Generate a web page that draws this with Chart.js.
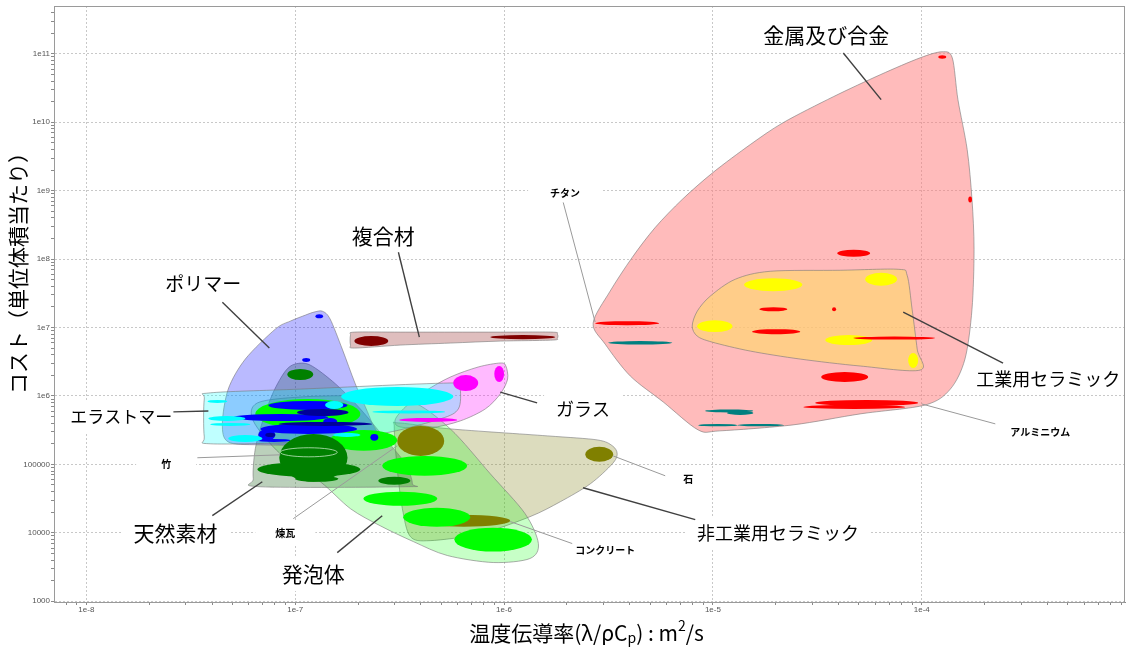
<!DOCTYPE html>
<html lang="ja">
<head>
<meta charset="utf-8">
<title>温度伝導率とコスト</title>
<script src="https://cdn.jsdelivr.net/npm/chart.js@4.4.1/dist/chart.umd.min.js"></script>
<style>
  html, body { margin: 0; padding: 0; background: #fff; }
  #wrap { position: relative; width: 1128px; height: 654px; }
</style>
</head>
<body>
<div id="wrap"><canvas id="chart"></canvas></div>
<script>
// tick labels as printed on the original axes
const xTickValues = [1e-8, 1e-7, 1e-6, 1e-5, 1e-4];
const xTickLabels = ['1e-8', '1e-7', '1e-6', '1e-5', '1e-4'];
const yTickValues = [1e3, 1e4, 1e5, 1e6, 1e7, 1e8, 1e9, 1e10, 1e11];
const yTickLabels = ['1000', '10000', '100000', '1e6', '1e7', '1e8', '1e9', '1e10', '1e11'];

// family envelopes, points are [diffusivity m2/s, cost]
const metalsHull = [[2.67e-6,1.16e7],[3.22e-6,3.40e7],[4.11e-6,1.06e8],[5.30e-6,2.91e8],[7.13e-6,7.45e8],[1.0e-5,1.84e9],[1.51e-5,4.72e9],[2.17e-5,9.87e9],[3.77e-5,2.36e10],[6.32e-5,4.94e10],[9.82e-5,8.74e10],[1.25e-4,1.07e11],[1.40e-4,8.74e10],[1.49e-4,2.14e10],[1.65e-4,3.99e9],[1.74e-4,7.45e8],[1.78e-4,1.39e8],[1.74e-4,1.85e7],[1.61e-4,3.46e6],[1.37e-4,1.26e6],[1.04e-4,7.39e5],[5.07e-5,5.47e5],[2.42e-5,3.78e5],[1.08e-5,3.09e5],[8.50e-6,3.19e5],[5.78e-6,8.18e5],[4.02e-6,1.96e6],[3.05e-6,5.72e6]];
const techCeramicHull = [[7.96e-6,1.05e7],[8.41e-6,1.73e7],[9.70e-6,2.87e7],[1.28e-5,5.08e7],[1.88e-5,6.64e7],[4.07e-5,6.87e7],[7.71e-5,7.10e7],[8.51e-5,5.81e7],[8.99e-5,1.85e7],[9.51e-5,4.84e6],[9.82e-5,2.39e6],[5.07e-5,2.74e6],[2.62e-5,3.46e6],[1.51e-5,4.53e6],[9.92e-6,6.12e6],[8.41e-6,7.5e6]];
const compositeHull = [[1.84e-7,7.75e6],[1.92e-7,8.57e6],[3.18e-7,8.57e6],[5.53e-7,8.57e6],[9.59e-7,8.57e6],[1.70e-6,8.57e6],[1.80e-6,8.01e6],[1.80e-6,7.0e6],[1.70e-6,6.55e6],[9.59e-7,6.34e6],[5.53e-7,5.93e6],[3.18e-7,5.54e6],[1.92e-7,5.01e6],[1.84e-7,5.54e6]];
const glassHull = [[3.01e-7,4.47e5],[3.37e-7,6.92e5],[4.20e-7,1.18e6],[5.53e-7,1.89e6],[7.52e-7,2.65e6],[9.59e-7,3.03e6],[1.02e-6,2.74e6],[1.04e-6,1.77e6],[9.59e-7,1.07e6],[8.13e-7,6.46e5],[6.17e-7,4.32e5],[4.43e-7,3.42e5],[3.18e-7,3.53e5]];
const ceramicHull = [[2.98e-7,3.53e5],[3.12e-7,4.04e5],[5.53e-7,3.30e5],[1.61e-6,2.61e5],[2.79e-6,2.28e5],[3.30e-6,1.87e5],[3.48e-6,1.43e5],[3.30e-6,1.02e5],[2.59e-6,5.21e4],[1.86e-6,2.85e4],[1.33e-6,1.72e4],[7.69e-7,9.73e3],[4.43e-7,7.69e3],[3.56e-7,8.81e3],[3.26e-7,2.25e4],[3.08e-7,8.63e4]];
const foamHull = [[6.30e-8,4.32e5],[6.59e-8,7.91e5],[1.06e-7,9.66e5],[2.05e-7,1.0e6],[3.56e-7,8.45e5],[5.53e-7,3.30e5],[8.59e-7,7.29e4],[1.26e-6,1.91e4],[1.46e-6,6.97e3],[1.33e-6,4.21e3],[8.88e-7,3.68e3],[5.35e-7,4.66e3],[3.68e-7,7.44e3],[2.55e-7,1.27e4],[1.84e-7,2.25e4],[1.32e-7,5.57e4],[8.48e-8,1.43e5]];
const naturalHull = [[7.86e-8,1.14e6],[8.97e-8,2.31e6],[1.0e-7,2.93e6],[1.18e-7,2.83e6],[1.56e-7,1.50e6],[2.05e-7,6.46e5],[2.70e-7,2.36e5],[3.37e-7,1.02e5],[3.64e-7,5.21e4],[3.37e-7,4.71e4],[6.81e-8,4.71e4],[6.30e-8,6.17e4],[6.44e-8,1.69e5],[7.04e-8,4.62e5]];
const polymerHull = [[1.12e-7,1.52e7],[1.23e-7,1.68e7],[1.35e-7,1.73e7],[1.47e-7,1.33e7],[1.68e-7,4.84e6],[1.94e-7,1.50e6],[2.29e-7,4.62e5],[2.42e-7,2.36e5],[1.47e-7,1.93e5],[6.81e-8,1.93e5],[4.78e-8,2.13e5],[4.48e-8,3.91e5],[4.78e-8,1.26e6],[5.77e-8,3.46e6],[8.03e-8,9.48e6],[9.47e-8,1.24e7]];
const elastomerHull = [[3.67e-8,9.04e5],[3.92e-8,1.11e6],[1.06e-7,1.26e6],[5.84e-7,1.55e6],[6.17e-7,1.26e6],[6.04e-7,6.46e5],[4.95e-7,4.62e5],[2.55e-7,2.79e5],[1.06e-7,2.13e5],[3.92e-8,2.0e5],[3.67e-8,2.52e5]];

// single materials, [x from, x to, y from, y to]
const techCeramicBubbles = [[1.41e-5,2.68e-5,3.40e7,5.25e7],[5.36e-5,7.62e-5,4.08e7,6.31e7],[8.41e-6,1.24e-5,8.57e6,1.28e7],[3.45e-5,5.79e-5,5.54e6,7.75e6],[8.61e-5,9.61e-5,2.56e6,4.24e6]];
const leadBubbles = [[3.15e-6,6.39e-6,5.63e6,6.34e6],[9.18e-6,1.56e-5,5.75e5,6.35e5],[1.17e-5,1.56e-5,5.29e5,6.04e5],[8.50e-6,1.31e-5,3.6e5,3.9e5],[1.31e-5,2.19e-5,3.6e5,3.9e5]];
const metalBubbles = [[1.20e-4,1.31e-4,8.46e10,9.5e10],[1.67e-4,1.74e-4,6.73e8,8.23e8],[3.94e-5,5.66e-5,1.08e8,1.37e8],[1.67e-5,2.27e-5,1.73e7,1.98e7],[3.72e-5,3.89e-5,1.73e7,1.98e7],[1.54e-5,2.62e-5,8.01e6,9.48e6],[2.73e-6,5.53e-6,1.08e7,1.24e7],[4.70e-5,1.16e-4,6.66e6,7.37e6],[3.30e-5,5.54e-5,1.60e6,2.24e6],[3.09e-5,9.61e-5,7.15e5,8.75e5],[2.71e-5,8.33e-5,6.46e5,7.39e5]];
const compositeBubbles = [[1.92e-7,2.79e-7,5.36e6,7.5e6],[8.59e-7,1.76e-6,6.77e6,7.75e6]];
const glassBubbles = [[5.71e-7,7.52e-7,1.18e6,2.02e6],[8.98e-7,1.0e-6,1.60e6,2.74e6],[3.15e-7,5.97e-7,4.18e5,4.78e5]];
const ceramicBubbles = [[3.08e-7,5.17e-7,1.33e5,3.65e5],[2.45e-6,3.33e-6,1.09e5,1.81e5],[3.84e-7,1.07e-6,1.23e4,1.84e4]];
const foamBubbles = [[6.44e-8,2.05e-7,3.30e5,9.04e5],[1.47e-7,3.08e-7,1.58e5,3.19e5],[2.61e-7,6.66e-7,6.82e4,1.33e5],[2.12e-7,4.79e-7,2.49e4,3.99e4],[3.29e-7,6.89e-7,1.23e4,2.33e4],[5.78e-7,1.36e-6,5.32e3,1.19e4],[1.18e-7,1.26e-7,5.11e5,5.85e5]];
const polymerBubbles = [[1.25e-7,1.36e-7,1.37e7,1.57e7],[1.08e-7,1.18e-7,3.13e6,3.58e6],[7.43e-8,1.78e-7,6.25e5,8.45e5],[5.05e-8,1.44e-7,4.32e5,5.47e5],[6.81e-8,1.98e-7,2.79e5,3.91e5],[1.36e-7,1.59e-7,3.65e5,4.78e5],[6.66e-8,8.03e-8,2.21e5,3.30e5],[2.29e-7,2.50e-7,2.21e5,2.79e5],[6.59e-8,9.47e-8,2.13e5,2.36e5]];
const polymerDarkBubbles = [[1.02e-7,1.80e-7,5.11e5,6.46e5],[8.30e-8,2.34e-7,3.65e5,4.18e5],[7.19e-8,8.03e-8,2.52e5,2.89e5]];
const naturalBubbles = [[9.17e-8,1.22e-7,1.71e6,2.48e6],[8.39e-8,1.78e-7,5.57e4,2.79e5],[6.59e-8,2.05e-7,6.59e4,1.09e5],[2.50e-7,3.56e-7,5.04e4,6.59e4],[1.0e-7,1.61e-7,5.57e4,6.82e4]];
const bambooBubble = [[8.48e-8,1.59e-7,1.29e5,1.75e5]];
const elastomerBubbles = [[1.66e-7,5.71e-7,7.15e5,1.35e6],[3.80e-8,4.73e-8,7.91e5,8.75e5],[3.84e-8,5.77e-8,4.32e5,5.11e5],[3.92e-8,6.10e-8,3.65e5,4.04e5],[4.78e-8,6.96e-8,2.13e5,2.70e5],[2.34e-7,5.23e-7,5.56e5,6.15e5],[1.39e-7,1.70e-7,6.46e5,8.45e5],[1.52e-7,2.05e-7,2.52e5,2.89e5]];

const families = [
  { name: '金属及び合金', hull: metalsHull, fill: 'rgba(255,120,120,0.5)' },
  { name: '工業用セラミック', hull: techCeramicHull, fill: 'rgba(255,215,110,0.65)' },
  { name: '複合材', hull: compositeHull, fill: 'rgba(150,40,40,0.3)' },
  { name: 'ガラス', hull: glassHull, fill: 'rgba(255,0,255,0.27)' },
  { name: '非工業用セラミック', hull: ceramicHull, fill: 'rgba(140,140,40,0.3)' },
  { name: '発泡体', hull: foamHull, fill: 'rgba(0,255,0,0.22)' },
  { name: '天然素材', hull: naturalHull, fill: 'rgba(60,120,60,0.35)' },
  { name: 'ポリマー', hull: polymerHull, fill: 'rgba(0,0,255,0.27)' },
  { name: 'エラストマー', hull: elastomerHull, fill: 'rgba(0,255,255,0.25)' }
];

// drawing order of the bubbles
const bubbleLayers = [
  [techCeramicBubbles, '#ffff00'],
  [leadBubbles, '#008080'],
  [metalBubbles, '#ff0000'],
  [compositeBubbles, '#800000'],
  [glassBubbles, '#ff00ff'],
  [ceramicBubbles, '#808000'],
  [foamBubbles, '#00ff00'],
  [polymerBubbles, '#0000ff'],
  [polymerDarkBubbles, '#000099'],
  [naturalBubbles, '#008000'],
  [elastomerBubbles, '#00ffff']
];

// callouts, placed in data coordinates
const notes = [
  { text: '金属及び合金', x: 3.49e-5, y: 1.89e11, size: 21 },
  { text: 'チタン', x: 1.96e-6, y: 9.1e8, size: 10, bold: true, padX: 44 },
  { text: '複合材', x: 2.64e-7, y: 2.15e8, size: 21 },
  { text: 'ポリマー', x: 3.63e-8, y: 4.30e7, size: 19 },
  { text: 'エラストマー', x: 1.47e-8, y: 4.94e5, size: 17 },
  { text: 'ガラス', x: 2.39e-6, y: 6.46e5, size: 18 },
  { text: '竹', x: 2.41e-8, y: 1.02e5, size: 10, bold: true, padX: 50 },
  { text: '天然素材', x: 2.67e-8, y: 1.0e4, size: 21 },
  { text: '煉瓦', x: 8.97e-8, y: 1.0e4, size: 10, bold: true, padX: 40 },
  { text: '発泡体', x: 1.22e-7, y: 2.54e3, size: 21 },
  { text: 'コンクリート', x: 3.05e-6, y: 5.50e3, size: 10, bold: true },
  { text: '非工業用セラミック', x: 2.05e-5, y: 1.0e4, size: 18 },
  { text: '石', x: 7.62e-6, y: 6.17e4, size: 10, bold: true },
  { text: '工業用セラミック', x: 4.03e-4, y: 1.77e6, size: 18, padX: 8 },
  { text: 'アルミニウム', x: 3.69e-4, y: 2.99e5, size: 10, bold: true }
];
// leader lines [x1, y1, x2, y2, dark]
const leaders = [
  [4.21e-5, 1.03e11, 6.39e-5, 2.14e10, true],
  [1.92e-6, 6.73e8, 2.73e-6, 1.20e7, false],
  [3.12e-7, 1.26e8, 3.93e-7, 7.24e6, true],
  [4.48e-8, 2.35e7, 7.52e-8, 5.01e6, true],
  [2.61e-8, 5.85e5, 3.84e-8, 6.04e5, true],
  [9.59e-7, 1.14e6, 1.44e-6, 7.91e5, true],
  [3.40e-8, 1.25e5, 8.48e-8, 1.38e5, false],
  [4.01e-8, 1.78e4, 6.96e-8, 5.57e4, true],
  [9.79e-8, 1.61e4, 3.08e-7, 1.87e5, false],
  [1.59e-7, 5.14e3, 2.61e-7, 1.78e4, true],
  [1.07e-6, 1.46e4, 2.12e-6, 6.97e3, false],
  [2.39e-6, 4.56e4, 8.23e-6, 1.56e4, true],
  [3.33e-6, 1.33e5, 5.91e-6, 6.82e4, false],
  [8.15e-5, 1.68e7, 2.45e-4, 3.03e6, true],
  [1.0e-4, 7.64e5, 2.25e-4, 3.91e5, false]
];

const JP = '"Noto Sans CJK JP", "Noto Sans CJK SC", sans-serif';

function withMinor(majors, lo, hi) {
  const out = majors.filter(v => v >= lo && v <= hi);
  [majors[0] / 10].concat(majors).forEach(d => {
    for (let m = 2; m <= 9; m++) {
      const v = d * m;
      if (v > lo && v < hi) out.push(v);
    }
  });
  return out.sort((a, b) => a - b);
}
const xMin = 7.03e-9, xMax = 9.4e-4, yMin = 975, yMax = 5.0e11;
const xTicks = withMinor(xTickValues, xMin, xMax);
const yTicks = withMinor(yTickValues, yMin, yMax);

function noteFont(n) {
  return (n.bold ? 'bold ' : '') + n.size + 'px ' + JP;
}

// closed catmull-rom curve through pixel points
function smoothLoop(ctx, p, k) {
  const n = p.length;
  ctx.beginPath();
  ctx.moveTo(p[0][0], p[0][1]);
  for (let i = 0; i < n; i++) {
    const p0 = p[(i - 1 + n) % n], p1 = p[i], p2 = p[(i + 1) % n], p3 = p[(i + 2) % n];
    ctx.bezierCurveTo(
      p1[0] + (p2[0] - p0[0]) * k / 6, p1[1] + (p2[1] - p0[1]) * k / 6,
      p2[0] - (p3[0] - p1[0]) * k / 6, p2[1] - (p3[1] - p1[1]) * k / 6,
      p2[0], p2[1]);
  }
  ctx.closePath();
}

function ellipsePath(ctx, sx, sy, b) {
  const x1 = sx.getPixelForValue(b[0]), x2 = sx.getPixelForValue(b[1]);
  const y1 = sy.getPixelForValue(b[2]), y2 = sy.getPixelForValue(b[3]);
  ctx.beginPath();
  ctx.ellipse((x1 + x2) / 2, (y1 + y2) / 2, Math.abs(x2 - x1) / 2, Math.abs(y2 - y1) / 2, 0, 0, Math.PI * 2);
}

const ashbyPlugin = {
  id: 'ashby',
  beforeDatasetsDraw(chart) {
    const { ctx, scales: { x, y } } = chart;
    ctx.save();
    // white label boxes interrupt the dotted grid, as in the original
    ctx.fillStyle = '#fff';
    notes.forEach(n => {
      ctx.font = noteFont(n);
      const w = ctx.measureText(n.text).width + (n.padX !== undefined ? n.padX : 24);
      const h = n.size + 14;
      ctx.fillRect(x.getPixelForValue(n.x) - w / 2, y.getPixelForValue(n.y) - h / 2, w, h);
    });
    // family envelopes from the dataset points
    chart.data.datasets.forEach((ds, i) => {
      const pts = chart.getDatasetMeta(i).data.map(el => [el.x, el.y]);
      smoothLoop(ctx, pts, 0.9);
      ctx.fillStyle = ds.backgroundColor;
      ctx.fill();
      ctx.lineWidth = 1;
      ctx.strokeStyle = 'rgba(120,120,120,0.6)';
      ctx.stroke();
    });
    ctx.restore();
  },
  afterDatasetsDraw(chart) {
    const { ctx, scales: { x, y }, chartArea } = chart;
    ctx.save();
    bubbleLayers.forEach(([list, color]) => {
      ctx.fillStyle = color;
      list.forEach(b => { ellipsePath(ctx, x, y, b); ctx.fill(); });
    });
    ctx.strokeStyle = 'rgba(190,230,190,0.8)';
    ctx.lineWidth = 1;
    bambooBubble.forEach(b => { ellipsePath(ctx, x, y, b); ctx.stroke(); });

    leaders.forEach(l => {
      ctx.beginPath();
      ctx.moveTo(x.getPixelForValue(l[0]), y.getPixelForValue(l[1]));
      ctx.lineTo(x.getPixelForValue(l[2]), y.getPixelForValue(l[3]));
      ctx.strokeStyle = l[4] ? '#404040' : '#9a9a9a';
      ctx.lineWidth = l[4] ? 1.4 : 1;
      ctx.stroke();
    });

    ctx.fillStyle = '#000';
    ctx.textAlign = 'center';
    ctx.textBaseline = 'middle';
    notes.forEach(n => {
      ctx.font = noteFont(n);
      ctx.fillText(n.text, x.getPixelForValue(n.x), y.getPixelForValue(n.y));
    });

    // frame
    ctx.strokeStyle = '#9a9a9a';
    ctx.lineWidth = 1;
    ctx.strokeRect(chartArea.left + 0.5, chartArea.top + 0.5, chartArea.right - chartArea.left - 1, chartArea.bottom - chartArea.top);
    ctx.restore();
  },
  afterDraw(chart) {
    const { ctx, chartArea } = chart;
    ctx.save();
    ctx.fillStyle = '#000';
    // y axis title
    ctx.translate(18, 268);
    ctx.rotate(-Math.PI / 2);
    ctx.font = '21px ' + JP;
    ctx.textAlign = 'center';
    ctx.textBaseline = 'middle';
    ctx.fillText('コスト（単位体積当たり）', 0, 0);
    ctx.restore();

    // x axis title with subscript and superscript
    ctx.save();
    const big = '21px ' + JP, small = '14px ' + JP;
    const parts = [['温度伝導率(λ/ρC', big, 0], ['p', small, 5], [') : m', big, 0], ['2', small, -7], ['/s', big, 0]];
    let total = 0;
    parts.forEach(p => { ctx.font = p[1]; total += ctx.measureText(p[0]).width; });
    let xx = (chartArea.left + chartArea.right) / 2 - 3 - total / 2;
    ctx.textAlign = 'left';
    ctx.textBaseline = 'middle';
    ctx.fillStyle = '#000';
    parts.forEach(p => {
      ctx.font = p[1];
      ctx.fillText(p[0], xx, 633 + p[2]);
      xx += ctx.measureText(p[0]).width;
    });
    ctx.restore();
  }
};

function gridFor(majors) {
  return {
    color: c => (c.tick && majors.includes(c.tick.value)) ? '#c8c8c8' : 'rgba(0,0,0,0)',
    tickColor: '#8a8a8a',
    tickLength: 3,
    lineWidth: 1
  };
}

new Chart(document.getElementById('chart'), {
  type: 'scatter',
  data: {
    datasets: families.map(f => ({
      label: f.name,
      data: f.hull.map(([px, py]) => ({ x: px, y: py })),
      backgroundColor: f.fill,
      pointRadius: 0,
      pointHoverRadius: 0,
      showLine: false
    }))
  },
  options: {
    responsive: true,
    maintainAspectRatio: false,
    animation: false,
    layout: { padding: { top: 6, right: 3, left: 0, bottom: 0 } },
    plugins: { legend: { display: false }, tooltip: { enabled: false } },
    scales: {
      x: {
        type: 'logarithmic',
        min: xMin,
        max: xMax,
        afterBuildTicks: s => { s.ticks = xTicks.map(v => ({ value: v })); },
        afterFit: s => { s.height = 52; },
        ticks: {
          autoSkip: false, maxRotation: 0, padding: 0, color: '#555',
          font: { family: 'Liberation Sans', size: 8 },
          callback: v => { const i = xTickValues.indexOf(v); return i < 0 ? '' : xTickLabels[i]; }
        },
        grid: gridFor(xTickValues),
        border: { color: '#8a8a8a', dash: [2, 2] }
      },
      y: {
        type: 'logarithmic',
        min: yMin,
        max: yMax,
        afterBuildTicks: s => { s.ticks = yTicks.map(v => ({ value: v })); },
        afterFit: s => { s.width = 54; },
        ticks: {
          autoSkip: false, padding: 1, color: '#555',
          font: { family: 'Liberation Sans', size: 8 },
          callback: v => { const i = yTickValues.indexOf(v); return i < 0 ? '' : yTickLabels[i]; }
        },
        grid: gridFor(yTickValues),
        border: { color: '#8a8a8a', dash: [2, 2] }
      }
    }
  },
  plugins: [ashbyPlugin]
});
</script>
</body>
</html>
